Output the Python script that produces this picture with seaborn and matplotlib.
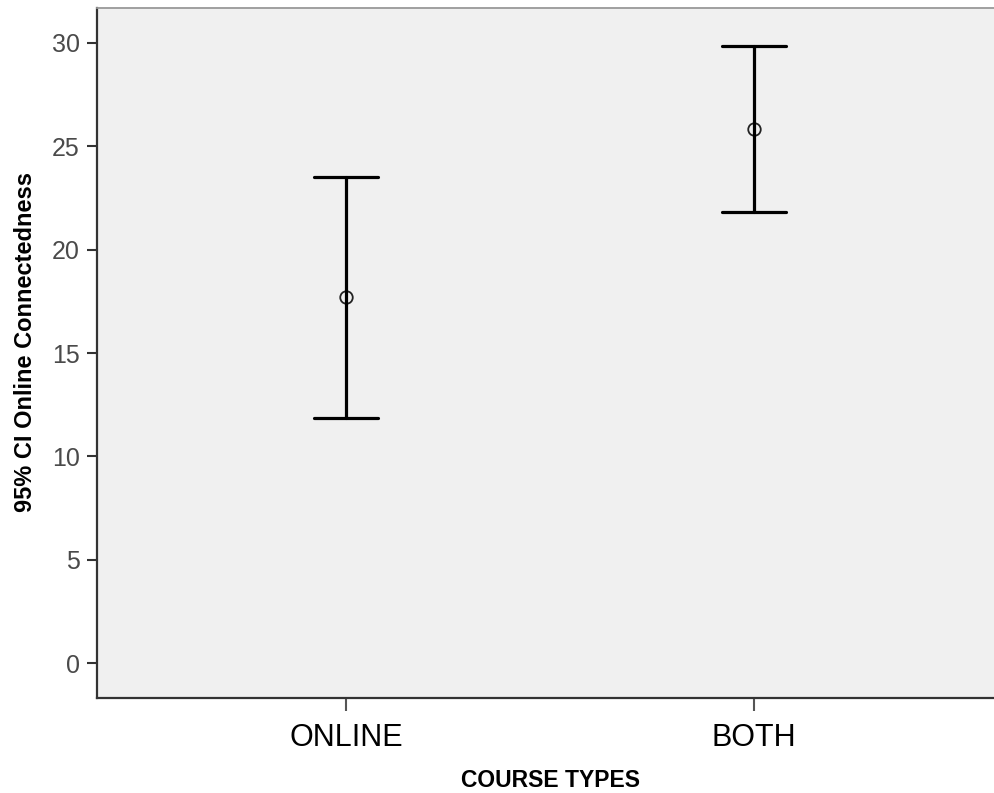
import matplotlib
matplotlib.use("Agg")
import matplotlib.pyplot as plt
import seaborn as sns
import pandas as pd

# ---- data ----
categories = ["ONLINE", "BOTH"]
ci_lower = [11.84, 21.84]
means = [17.72, 25.82]
ci_upper = [23.53, 29.85]
y_ticks = [0, 5, 10, 15, 20, 25, 30]
x_label = "COURSE TYPES"
y_label = "95% CI Online Connectedness"

df = pd.DataFrame({
    "course": categories * 3,
    "value": ci_lower + means + ci_upper,
})

sns.set_style("ticks")
plt.rcParams["font.family"] = ["Liberation Sans", "DejaVu Sans"]

fig = plt.figure(figsize=(9.94, 7.93), dpi=100)
ax = fig.add_axes([0.0976, 0.1198, 0.9024, 0.8701])
ax.set_facecolor("#F0F0F0")

sns.pointplot(
    data=df, x="course", y="value", order=categories,
    estimator="median", errorbar=lambda v: (v.min(), v.max()),
    linestyle="none", marker="o", color="black",
    markersize=9, markerfacecolor="none", markeredgecolor="#222222",
    markeredgewidth=1.3, capsize=0.157,
    err_kws={"linewidth": 2.3, "color": "black"},
    ax=ax,
)

ax.set_xlim(-0.610, 1.588)
ax.set_ylim(-1.69, 31.69)
ax.set_yticks(y_ticks)
ax.set_yticklabels([str(t) for t in y_ticks])

ax.tick_params(axis="y", direction="out", length=7, width=1.5, color="#333333",
               labelsize=18, labelcolor="#4a4a4a", pad=5.5)
ax.tick_params(axis="x", direction="out", length=9, width=1.5, color="#555555",
               labelsize=22, labelcolor="black", pad=9)

for s in ["left", "bottom"]:
    ax.spines[s].set_color("#333333")
    ax.spines[s].set_linewidth(1.6)
ax.spines["top"].set_color("#999999")
ax.spines["top"].set_linewidth(1.3)
ax.spines["right"].set_visible(False)

ax.set_xlabel(x_label, fontsize=16.5, fontweight="bold", color="black")
ax.set_ylabel(y_label, fontsize=17, fontweight="bold", color="black")
ax.xaxis.set_label_coords(0.506, -0.103)
ax.yaxis.set_label_coords(-0.067, 0.516)

fig.savefig("out.png", dpi=100)
